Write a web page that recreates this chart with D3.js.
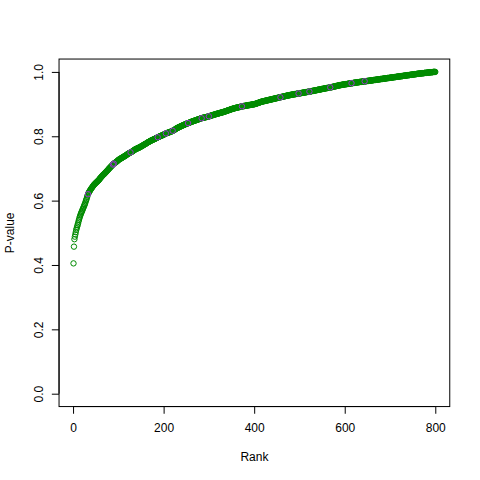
<!DOCTYPE html>
<html>
<head>
<meta charset="utf-8">
<script src="https://cdn.jsdelivr.net/npm/d3@7/dist/d3.min.js"></script>
<style>
  html, body { margin: 0; padding: 0; background: #fff; }
  svg { display: block; }
  text { font-family: "Liberation Sans", Arial, Helvetica, sans-serif; font-size: 12px; fill: #000; }
</style>
</head>
<body>
<svg id="chart" width="480" height="480"></svg>
<script>
// Sorted p-values, rank 1..800
const pvalues = [
0.405,0.457,0.480,0.488,0.495,0.502,0.509,0.514,0.519,0.524,
0.529,0.535,0.540,0.545,0.550,0.554,0.558,0.562,0.565,0.568,
0.572,0.575,0.579,0.582,0.586,0.589,0.593,0.598,0.602,0.606,
0.611,0.616,0.620,0.623,0.626,0.628,0.630,0.633,0.635,0.637,
0.639,0.641,0.643,0.645,0.647,0.649,0.650,0.652,0.653,0.655,
0.656,0.657,0.659,0.660,0.661,0.663,0.664,0.666,0.668,0.670,
0.671,0.673,0.675,0.676,0.678,0.679,0.681,0.682,0.683,0.685,
0.686,0.688,0.689,0.691,0.692,0.694,0.695,0.697,0.699,0.700,
0.702,0.703,0.705,0.706,0.708,0.709,0.711,0.712,0.714,0.715,
0.716,0.717,0.718,0.719,0.720,0.721,0.722,0.723,0.725,0.726,
0.727,0.728,0.729,0.730,0.731,0.731,0.732,0.733,0.734,0.735,
0.736,0.737,0.737,0.738,0.739,0.740,0.741,0.742,0.743,0.744,
0.745,0.746,0.747,0.747,0.748,0.749,0.750,0.751,0.751,0.752,
0.753,0.754,0.755,0.756,0.757,0.758,0.759,0.760,0.760,0.761,
0.762,0.762,0.763,0.764,0.764,0.765,0.766,0.766,0.767,0.768,
0.769,0.770,0.771,0.771,0.772,0.773,0.774,0.775,0.776,0.776,
0.777,0.778,0.779,0.780,0.781,0.782,0.782,0.783,0.784,0.785,
0.786,0.786,0.787,0.788,0.788,0.789,0.790,0.790,0.791,0.792,
0.792,0.793,0.794,0.794,0.795,0.796,0.797,0.797,0.798,0.799,
0.799,0.800,0.801,0.801,0.802,0.802,0.803,0.804,0.804,0.805,
0.806,0.806,0.807,0.808,0.809,0.809,0.810,0.810,0.811,0.811,
0.812,0.812,0.813,0.813,0.814,0.814,0.815,0.816,0.816,0.817,
0.818,0.818,0.819,0.820,0.821,0.822,0.823,0.824,0.825,0.825,
0.826,0.827,0.828,0.828,0.829,0.830,0.830,0.831,0.832,0.832,
0.833,0.834,0.834,0.835,0.835,0.836,0.837,0.837,0.838,0.839,
0.839,0.840,0.840,0.841,0.841,0.842,0.842,0.843,0.844,0.844,
0.845,0.845,0.846,0.846,0.847,0.847,0.848,0.848,0.849,0.849,
0.850,0.850,0.851,0.851,0.852,0.852,0.853,0.853,0.854,0.854,
0.855,0.855,0.856,0.856,0.857,0.857,0.857,0.858,0.858,0.858,
0.859,0.859,0.859,0.860,0.860,0.860,0.861,0.861,0.861,0.862,
0.862,0.863,0.863,0.864,0.864,0.865,0.865,0.866,0.866,0.866,
0.867,0.867,0.868,0.868,0.869,0.869,0.869,0.870,0.870,0.871,
0.871,0.871,0.872,0.872,0.873,0.873,0.873,0.874,0.874,0.875,
0.875,0.875,0.876,0.876,0.877,0.877,0.878,0.878,0.879,0.879,
0.880,0.880,0.881,0.881,0.882,0.882,0.883,0.883,0.884,0.884,
0.885,0.885,0.886,0.886,0.886,0.887,0.887,0.888,0.888,0.888,
0.889,0.889,0.889,0.890,0.890,0.890,0.891,0.891,0.891,0.892,
0.892,0.892,0.893,0.893,0.893,0.894,0.894,0.894,0.894,0.895,
0.895,0.895,0.895,0.896,0.896,0.896,0.896,0.897,0.897,0.897,
0.897,0.898,0.898,0.898,0.898,0.899,0.899,0.899,0.899,0.900,
0.900,0.900,0.901,0.901,0.902,0.902,0.903,0.903,0.904,0.904,
0.905,0.905,0.906,0.906,0.907,0.907,0.908,0.908,0.908,0.909,
0.909,0.909,0.910,0.910,0.910,0.911,0.911,0.911,0.912,0.912,
0.912,0.913,0.913,0.913,0.914,0.914,0.914,0.915,0.915,0.915,
0.916,0.916,0.916,0.917,0.917,0.917,0.918,0.918,0.918,0.919,
0.919,0.919,0.920,0.920,0.920,0.921,0.921,0.921,0.922,0.922,
0.922,0.923,0.923,0.923,0.924,0.924,0.924,0.925,0.925,0.925,
0.926,0.926,0.926,0.927,0.927,0.927,0.927,0.928,0.928,0.928,
0.929,0.929,0.929,0.929,0.930,0.930,0.930,0.930,0.931,0.931,
0.931,0.931,0.932,0.932,0.932,0.932,0.933,0.933,0.933,0.933,
0.934,0.934,0.934,0.934,0.935,0.935,0.935,0.935,0.936,0.936,
0.936,0.936,0.937,0.937,0.937,0.937,0.938,0.938,0.938,0.938,
0.939,0.939,0.939,0.939,0.940,0.940,0.940,0.941,0.941,0.941,
0.941,0.942,0.942,0.942,0.943,0.943,0.943,0.943,0.944,0.944,
0.944,0.945,0.945,0.945,0.945,0.946,0.946,0.946,0.947,0.947,
0.947,0.947,0.948,0.948,0.948,0.949,0.949,0.949,0.949,0.950,
0.950,0.950,0.950,0.951,0.951,0.951,0.951,0.952,0.952,0.952,
0.953,0.953,0.953,0.954,0.954,0.954,0.955,0.955,0.955,0.956,
0.956,0.956,0.957,0.957,0.957,0.958,0.958,0.958,0.959,0.959,
0.959,0.959,0.960,0.960,0.960,0.960,0.961,0.961,0.961,0.961,
0.962,0.962,0.962,0.962,0.962,0.963,0.963,0.963,0.963,0.964,
0.964,0.964,0.964,0.964,0.965,0.965,0.965,0.965,0.966,0.966,
0.966,0.966,0.967,0.967,0.967,0.967,0.967,0.968,0.968,0.968,
0.968,0.968,0.969,0.969,0.969,0.969,0.969,0.970,0.970,0.970,
0.970,0.970,0.970,0.971,0.971,0.971,0.971,0.971,0.972,0.972,
0.972,0.972,0.972,0.973,0.973,0.973,0.973,0.973,0.974,0.974,
0.974,0.974,0.974,0.975,0.975,0.975,0.975,0.975,0.976,0.976,
0.976,0.976,0.976,0.977,0.977,0.977,0.977,0.977,0.978,0.978,
0.978,0.978,0.978,0.979,0.979,0.979,0.979,0.979,0.980,0.980,
0.980,0.980,0.980,0.981,0.981,0.981,0.981,0.981,0.982,0.982,
0.982,0.982,0.982,0.983,0.983,0.983,0.983,0.983,0.984,0.984,
0.984,0.984,0.984,0.985,0.985,0.985,0.985,0.985,0.986,0.986,
0.986,0.986,0.986,0.987,0.987,0.987,0.987,0.987,0.988,0.988,
0.988,0.988,0.988,0.989,0.989,0.989,0.989,0.989,0.990,0.990,
0.990,0.990,0.990,0.991,0.991,0.991,0.991,0.991,0.992,0.992,
0.992,0.992,0.992,0.993,0.993,0.993,0.993,0.993,0.994,0.994,
0.994,0.994,0.994,0.995,0.995,0.995,0.995,0.995,0.995,0.996,
0.996,0.996,0.996,0.996,0.996,0.997,0.997,0.997,0.997,0.997,
0.997,0.998,0.998,0.998,0.998,0.998,0.998,0.999,0.999,0.999,
0.999,0.999,0.999,0.999,1.000,1.000,1.000,1.000,1.000,1.000
];
// Ranks drawn as highlighted (purple) points
const highlightRanks = [33, 88, 90, 127, 187, 205, 220, 254, 284, 300, 373, 458, 498, 522, 568, 615, 644];
const xTicks = [0, 200, 400, 600, 800];
const yTicks = [0.0, 0.2, 0.4, 0.6, 0.8, 1.0];
const xLabel = "Rank";
const yLabel = "P-value";

const svg = d3.select("#chart");
const plot = { left: 59.04, top: 59.04, right: 449.76, bottom: 406.56 };

const ranks = pvalues.map((_, i) => i + 1);
const n = pvalues.length;
const xr = [1, n], xpad = (xr[1] - xr[0]) * 0.04;
const yr = [0, 1], ypad = (yr[1] - yr[0]) * 0.04;

const x = d3.scaleLinear().domain([xr[0] - xpad, xr[1] + xpad]).range([plot.left, plot.right]);
const y = d3.scaleLinear().domain([yr[0] - ypad, yr[1] + ypad]).range([plot.bottom, plot.top]);

svg.append("rect").attr("width", 480).attr("height", 480).attr("fill", "#fff");

// points
const g = svg.append("g");
g.selectAll("circle.main").data(ranks).join("circle")
  .attr("class", "main")
  .attr("cx", d => x(d)).attr("cy", d => y(pvalues[d - 1]))
  .attr("r", 2.7).attr("fill", "none").attr("stroke", "#008B00").attr("stroke-width", 1);
g.selectAll("circle.hl").data(highlightRanks).join("circle")
  .attr("class", "hl")
  .attr("cx", d => x(d)).attr("cy", d => y(pvalues[d - 1]))
  .attr("r", 2.7).attr("fill", "none").attr("stroke", "#9932CC").attr("stroke-width", 1);

// box
svg.append("rect")
  .attr("x", plot.left).attr("y", plot.top)
  .attr("width", plot.right - plot.left).attr("height", plot.bottom - plot.top)
  .attr("fill", "none").attr("stroke", "#000").attr("stroke-width", 1);

// x axis
const xAxis = d3.axisBottom(x).tickValues(xTicks).tickSize(7.2).tickPadding(10).tickFormat(d3.format("d"));
const gx = svg.append("g").attr("transform", `translate(0,${plot.bottom})`).call(xAxis);
gx.select(".domain").attr("d", `M${x(xTicks[0])},0H${x(xTicks[xTicks.length - 1])}`);
gx.selectAll("text").style("font-size", "12px").attr("dy", "0.71em");

// y axis
const yAxis = d3.axisLeft(y).tickValues(yTicks).tickSize(7.2).tickPadding(0).tickFormat(d3.format(".1f"));
const gy = svg.append("g").attr("transform", `translate(${plot.left},0)`).call(yAxis);
gy.select(".domain").attr("d", `M0,${y(yTicks[0])}V${y(yTicks[yTicks.length - 1])}`);
gy.selectAll(".tick text")
  .attr("x", null).attr("dy", null)
  .attr("text-anchor", "middle")
  .attr("transform", "translate(-20,0) rotate(-90)")
  .attr("dominant-baseline", "central")
  .style("font-size", "12px");

svg.selectAll(".domain, .tick line").attr("stroke", "#000");

// axis titles
svg.append("text").attr("x", (plot.left + plot.right) / 2).attr("y", 457)
  .attr("text-anchor", "middle").attr("dominant-baseline", "central").text(xLabel);
svg.append("text").attr("transform", `translate(10,${(plot.top + plot.bottom) / 2}) rotate(-90)`)
  .attr("text-anchor", "middle").attr("dominant-baseline", "central").text(yLabel);
</script>
</body>
</html>
